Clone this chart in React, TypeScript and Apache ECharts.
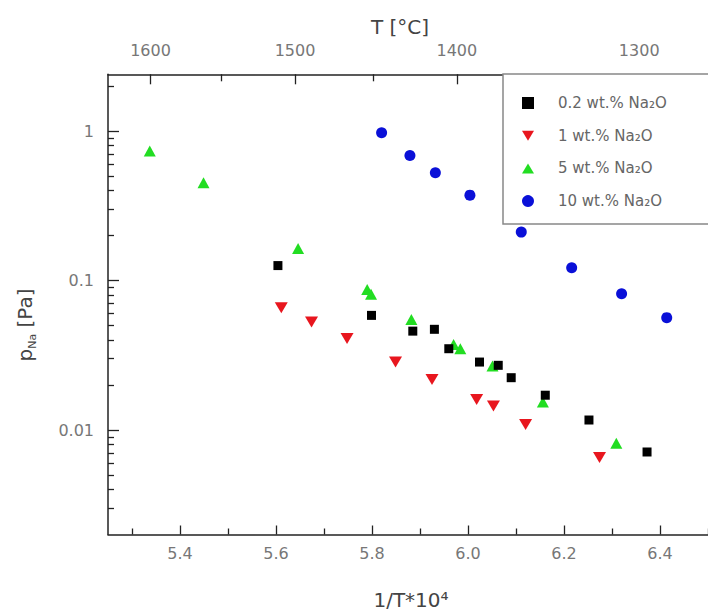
import React, { useEffect, useRef } from 'react';
import * as echarts from 'echarts';

// ---- data (x = 1/T*10^4, y = p_Na in Pa) ----
const seriesNames = ['0.2 wt.% Na₂O', '1 wt.% Na₂O', '5 wt.% Na₂O', '10 wt.% Na₂O'];

const na02X = [5.604, 5.799, 5.885, 5.93, 5.96, 6.024, 6.063, 6.09, 6.161, 6.252, 6.373];
const na02Y = [0.126, 0.0585, 0.0459, 0.0472, 0.035, 0.0285, 0.0271, 0.0224, 0.0171, 0.01167, 0.00713];

const na1X = [5.611, 5.674, 5.748, 5.849, 5.925, 6.018, 6.053, 6.12, 6.274];
const na1Y = [0.0659, 0.0528, 0.0409, 0.0285, 0.0218, 0.016, 0.0145, 0.0109, 0.00654];

const na5X = [5.337, 5.449, 5.646, 5.79, 5.798, 5.882, 5.97, 5.984, 6.051, 6.156, 6.309];
const na5Y = [0.735, 0.452, 0.164, 0.0873, 0.0809, 0.055, 0.0374, 0.035, 0.0268, 0.0154, 0.00815];

const na10X = [5.82, 5.879, 5.932, 6.004, 6.111, 6.216, 6.32, 6.414];
const na10Y = [0.976, 0.688, 0.527, 0.373, 0.211, 0.122, 0.0817, 0.0565];

// ---- axes ----
const xMin = 5.25;
const xMax = 6.5;
const yMin = 0.002;
const yMax = 2.4;
const xMajorTicks = [5.4, 5.6, 5.8, 6.0, 6.2, 6.4];
const xMinorTicks = [5.3, 5.5, 5.7, 5.9, 6.1, 6.3, 6.5];
const yMajorTicks = [0.01, 0.1, 1];
const yMinorTicks = [
  0.003, 0.004, 0.005, 0.006, 0.007, 0.008, 0.009,
  0.02, 0.03, 0.04, 0.05, 0.06, 0.07, 0.08, 0.09,
  0.2, 0.3, 0.4, 0.5, 0.6, 0.7, 0.8, 0.9,
  2,
];
const tempMajorC = [1600, 1500, 1400, 1300];
const tempMinorC = [1550, 1450, 1350];

const cToX = (t: number) => 1e4 / (t + 273.15);
const xToC = (x: number) => 1e4 / x - 273.15;

const FONT = 'DejaVu Sans';
const LINE = '#222';
const LABEL = '#777';

function zip(xs: number[], ys: number[]) {
  return xs.map((x, i) => [x, ys[i]]);
}

export default function App() {
  const ref = useRef<HTMLDivElement>(null);

  useEffect(() => {
    if (!ref.current) return;
    const chart = echarts.init(ref.current, null, { renderer: 'svg' });

    const lineStyle = { color: LINE, width: 1.5 };
    const tickStyle = { color: LINE, width: 1.3 };
    const labelStyle = { fontSize: 16, color: LABEL, fontFamily: FONT };

    const option: any = {
      animation: false,
      backgroundColor: '#fff',
      grid: { left: 108, top: 74.3, bottom: 80.5, right: -5.4, containLabel: false },
      xAxis: [
        {
          type: 'value', position: 'bottom', min: xMin, max: xMax,
          axisLine: { show: true, onZero: false, lineStyle },
          splitLine: { show: false },
          axisTick: { show: true, inside: true, length: 9, customValues: xMajorTicks, lineStyle: tickStyle },
          axisLabel: { customValues: xMajorTicks, formatter: (v: number) => v.toFixed(1), margin: 11, ...labelStyle },
        },
        {
          type: 'value', position: 'bottom', min: xMin, max: xMax,
          axisLine: { show: false, onZero: false },
          splitLine: { show: false },
          axisTick: { show: true, inside: true, length: 6, customValues: xMinorTicks, lineStyle: tickStyle },
          axisLabel: { show: false },
        },
        {
          type: 'value', position: 'top', min: xMin, max: xMax,
          axisLine: { show: true, onZero: false, lineStyle },
          splitLine: { show: false },
          axisTick: { show: true, inside: true, length: 10, customValues: tempMajorC.map(cToX), lineStyle: tickStyle },
          axisLabel: {
            customValues: tempMajorC.map(cToX),
            formatter: (v: number) => String(Math.round(xToC(v) / 10) * 10),
            margin: 16, ...labelStyle,
          },
        },
        {
          type: 'value', position: 'top', min: xMin, max: xMax,
          axisLine: { show: false, onZero: false },
          splitLine: { show: false },
          axisTick: { show: true, inside: true, length: 7, customValues: tempMinorC.map(cToX), lineStyle: tickStyle },
          axisLabel: { show: false },
        },
      ],
      yAxis: [
        {
          type: 'log', logBase: 10, position: 'left', min: yMin, max: yMax,
          axisLine: { show: true, onZero: false, lineStyle },
          splitLine: { show: false },
          axisTick: { show: true, inside: true, length: 11, customValues: yMajorTicks, lineStyle: tickStyle },
          axisLabel: {
            customValues: yMajorTicks,
            formatter: (v: number) => String(Number(v.toPrecision(2))),
            margin: 14, ...labelStyle,
          },
        },
        {
          type: 'log', logBase: 10, position: 'left', min: yMin, max: yMax,
          axisLine: { show: false, onZero: false },
          splitLine: { show: false },
          axisTick: { show: true, inside: true, length: 6, customValues: yMinorTicks, lineStyle: tickStyle },
          axisLabel: { show: false },
        },
      ],
      legend: {
        orient: 'vertical',
        left: 503,
        top: 74,
        padding: [21.5, 50, 15.5, 19],
        itemGap: 17.7,
        itemWidth: 12,
        itemHeight: 12,
        borderColor: '#888',
        borderWidth: 1.5,
        borderRadius: 0,
        backgroundColor: '#fff',
        selectedMode: false,
        textStyle: { fontSize: 15, color: '#666', fontFamily: FONT, padding: [0, 0, 0, 19] },
        data: [
          { name: seriesNames[0], icon: 'path://M0,0L10,0L10,10L0,10Z', itemStyle: { color: '#000' } },
          { name: seriesNames[1], icon: 'path://M0,0L12,0L6,10Z', itemStyle: { color: '#e8161e' } },
          { name: seriesNames[2], icon: 'path://M6,0L12,10L0,10Z', itemStyle: { color: '#22dd22' } },
          { name: seriesNames[3], icon: 'circle', itemStyle: { color: '#0a10d8' } },
        ],
      },
      series: [
        {
          name: seriesNames[0], type: 'scatter', xAxisIndex: 0, yAxisIndex: 0,
          symbol: 'rect', symbolSize: 9, itemStyle: { color: '#000', opacity: 1 },
          data: zip(na02X, na02Y), z: 5,
        },
        {
          name: seriesNames[1], type: 'scatter', xAxisIndex: 0, yAxisIndex: 0,
          symbol: 'triangle', symbolSize: [13, 11], symbolRotate: 180, itemStyle: { color: '#e8161e', opacity: 1 },
          data: zip(na1X, na1Y), z: 3,
        },
        {
          name: seriesNames[2], type: 'scatter', xAxisIndex: 0, yAxisIndex: 0,
          symbol: 'triangle', symbolSize: [12, 11], itemStyle: { color: '#22dd22', opacity: 1 },
          data: zip(na5X, na5Y), z: 4,
        },
        {
          name: seriesNames[3], type: 'scatter', xAxisIndex: 0, yAxisIndex: 0,
          symbol: 'circle', symbolSize: 11, itemStyle: { color: '#0a10d8', opacity: 1 },
          data: zip(na10X, na10Y), z: 3,
        },
      ],
      graphic: [
        {
          type: 'text',
          style: {
            text: 'T [°C]', x: 400, y: 27, align: 'center', verticalAlign: 'middle',
            fontSize: 20, fontFamily: FONT, fill: '#444',
          },
        },
        {
          type: 'text',
          style: {
            text: '1/T*10⁴', x: 411, y: 600, align: 'center', verticalAlign: 'middle',
            fontSize: 20, fontFamily: FONT, fill: '#444',
          },
        },
        {
          type: 'text',
          x: 25, y: 325, rotation: Math.PI / 2,
          style: {
            text: '{a|p}{s|Na}{a| [Pa]}', x: 0, y: 0, align: 'center', verticalAlign: 'middle',
            rich: {
              a: { fontSize: 20, lineHeight: 26, verticalAlign: 'middle', fontFamily: FONT, fill: '#444' },
              s: { fontSize: 11, lineHeight: 12, verticalAlign: 'bottom', fontFamily: FONT, fill: '#444' },
            },
          },
        },
      ],
    };

    chart.setOption(option);
    return () => chart.dispose();
  }, []);

  return (
    <div
      ref={ref}
      style={{ position: 'fixed', left: 0, top: 0, width: 708, height: 615, background: '#fff' }}
    />
  );
}
